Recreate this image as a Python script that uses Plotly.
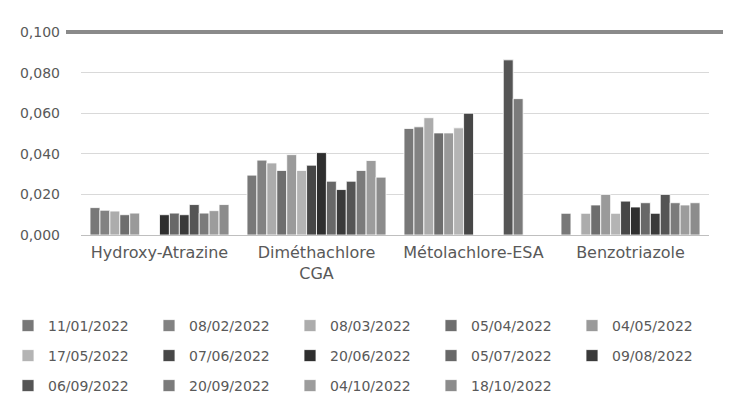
import plotly.graph_objects as go

categories = ["Hydroxy-Atrazine", "Diméthachlore<br>CGA", "Métolachlore-ESA", "Benzotriazole"]

dates = ["11/01/2022", "08/02/2022", "08/03/2022", "05/04/2022", "04/05/2022",
         "17/05/2022", "07/06/2022", "20/06/2022", "05/07/2022", "09/08/2022",
         "06/09/2022", "20/09/2022", "04/10/2022", "18/10/2022"]

# values per date: [Hydroxy-Atrazine, Diméthachlore CGA, Métolachlore-ESA, Benzotriazole]
v_11_01 = [0.0135, 0.0295, 0.0525, 0.0107]
v_08_02 = [0.0122, 0.0369, 0.0533, None]
v_08_03 = [0.0118, 0.0355, 0.0578, 0.0107]
v_05_04 = [0.0100, 0.0318, 0.0503, 0.0148]
v_04_05 = [0.0108, 0.0396, 0.0503, 0.0200]
v_17_05 = [None, 0.0318, 0.0528, 0.0107]
v_07_06 = [None, 0.0344, 0.0600, 0.0167]
v_20_06 = [0.0100, 0.0406, None, 0.0138]
v_05_07 = [0.0108, 0.0265, None, 0.0159]
v_09_08 = [0.0100, 0.0224, None, 0.0107]
v_06_09 = [0.0150, 0.0265, 0.0863, 0.0200]
v_20_09 = [0.0108, 0.0318, 0.0672, 0.0159]
v_04_10 = [0.0120, 0.0367, None, 0.0148]
v_18_10 = [0.0150, 0.0285, None, 0.0159]

series = [v_11_01, v_08_02, v_08_03, v_05_04, v_04_05, v_17_05, v_07_06,
          v_20_06, v_05_07, v_09_08, v_06_09, v_20_09, v_04_10, v_18_10]

colors = ["#787878", "#828282", "#acacac", "#6e6e6e", "#9a9a9a", "#b4b4b4", "#474747",
          "#2f2f2f", "#686868", "#3a3a3a", "#555555", "#7b7b7b", "#9c9c9c", "#8c8c8c"]

threshold = 0.100
y_ticks = [0, 0.02, 0.04, 0.06, 0.08, 0.10]

FONT = "DejaVu Sans"
TXT = "#595959"

W, H = 731, 417
L, R = 73, 30
y0_px, y100_px = 227, 24          # pixel rows of 0 and 0.100
ymax = 0.1025
ppu = (y0_px - y100_px) / 0.1
T = int(round(y100_px - (ymax - 0.1) * ppu))
B = H - y0_px
pw = W - L - R

# legend grid: 5 columns, 3 rows
col_x = [0, 141, 282, 423, 564]
row_y = [318, 348, 378]

fig = go.Figure()
legend_layouts = {}
for i, (name, vals, col) in enumerate(zip(dates, series, colors)):
    lg = "legend" if i == 0 else f"legend{i + 1}"
    fig.add_trace(go.Bar(
        x=categories, y=vals, name=name, showlegend=True,
        marker=dict(color=col, line=dict(color="white", width=0.8)),
        legend=lg,
    ))
    r, c = divmod(i, 5)
    legend_layouts[lg] = dict(
        visible=True,
        orientation="h", xref="container", yref="container",
        x=col_x[c] / W, y=1 - row_y[r] / H, xanchor="left", yanchor="middle",
        itemwidth=30, font=dict(family=FONT, size=14, color=TXT),
        bgcolor="rgba(0,0,0,0)")

fig.add_shape(type="line", xref="paper", yref="y",
              x0=(58 - L) / pw, x1=(723 - L) / pw, y0=threshold, y1=threshold,
              line=dict(color="#8a8a8a", width=4), layer="above")

fig.update_layout(
    width=W, height=H,
    margin=dict(l=L, r=R, t=T, b=B),
    showlegend=True,
    paper_bgcolor="white", plot_bgcolor="white",
    separators=", ",
    barmode="group", bargap=0.115, bargroupgap=0,
    font=dict(family=FONT, size=14, color=TXT),
    xaxis=dict(showgrid=False, showline=True, linecolor="#bfbfbf", linewidth=1,
               ticks="", tickfont=dict(family=FONT, size=16, color=TXT),
               ticklabelstandoff=3, automargin=False),
    yaxis=dict(range=[0, ymax], tickvals=y_ticks, tickformat=".3f",
               showgrid=True, gridcolor="#d9d9d9", gridwidth=1,
               zeroline=False, showline=False, ticks="",
               tickfont=dict(family=FONT, size=14, color=TXT),
               ticklabelstandoff=20, automargin=False),
    **legend_layouts,
)

fig.write_html("out.html")
